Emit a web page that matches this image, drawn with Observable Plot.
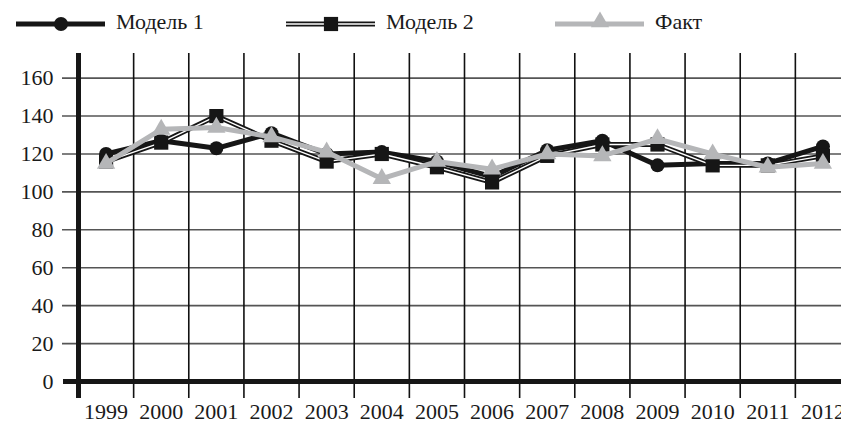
<!DOCTYPE html>
<html>
<head>
<meta charset="utf-8">
<script src="https://cdn.jsdelivr.net/npm/d3@7"></script>
<script src="https://cdn.jsdelivr.net/npm/@observablehq/plot@0.6"></script>
<style>
  html, body { margin: 0; padding: 0; background: #fff; overflow: hidden; width: 841px; height: 423px; }
  #legend { height: 40px; }
  #chart svg { display: block; max-width: none !important; }
</style>
</head>
<body>
<div id="legend"></div>
<div id="chart"></div>
<script>
const years = [1999, 2000, 2001, 2002, 2003, 2004, 2005, 2006, 2007, 2008, 2009, 2010, 2011, 2012];
const model1 = [120, 127, 123, 131, 120, 121, 116, 108, 122, 127, 114, 115, 115, 124];
const model2 = [116, 126, 140, 127, 116, 120, 113, 105, 119, 125, 125, 114, 114, 119];
const fact   = [115, 133, 134, 129, 121, 107, 116, 112, 120, 119, 128, 120, 113, 115];
const yTicks = [0, 20, 40, 60, 80, 100, 120, 140, 160];
const seriesNames = ["Модель 1", "Модель 2", "Факт"];

const FONT = "'Liberation Serif', 'Times New Roman', serif";
const BLACK = "#161616";
const GRAY = "#b5b6b8";

const rows = arr => years.map((year, i) => ({year, value: arr[i]}));
const d1 = rows(model1), d2 = rows(model2), d3r = rows(fact);
const boundaries = years.slice(1).map(y => y - 0.5);

const chart = Plot.plot({
  width: 850,
  height: 383,
  marginLeft: 78,
  marginRight: 0,
  marginTop: 13,
  marginBottom: 42,
  x: {type: "linear", domain: [years[0] - 0.5, years[years.length - 1] + 0.5], label: null},
  y: {domain: [0, 173], label: null},
  style: {fontFamily: FONT, fontSize: "22px", color: "#1a1a1a", background: "#fff"},
  marks: [
    Plot.ruleY(yTicks.slice(1), {stroke: "#555", strokeWidth: 1.6, insetLeft: -16}),
    Plot.ruleX(boundaries, {stroke: "#111", strokeWidth: 1.6, insetBottom: -17}),
    Plot.ruleX([years[0] - 0.5], {stroke: BLACK, strokeWidth: 5, insetBottom: -17}),
    Plot.ruleY([0], {stroke: BLACK, strokeWidth: 5, insetLeft: -15}),
    Plot.axisY({ticks: yTicks, tickSize: 0, tickPadding: 25, fontSize: 22, fontFamily: FONT}),
    Plot.axisX({ticks: years, tickSize: 0, tickPadding: 22, fontSize: 22, fontFamily: FONT, tickFormat: d => String(d)}),
    // Model 1
    Plot.line(d1, {x: "year", y: "value", stroke: BLACK, strokeWidth: 5, strokeLinejoin: "miter"}),
    Plot.dot(d1, {x: "year", y: "value", symbol: "circle", r: 7, fill: BLACK, stroke: "none"}),
    // Model 2 (double line)
    Plot.line(d2, {x: "year", y: "value", stroke: BLACK, strokeWidth: 5, strokeLinejoin: "miter"}),
    Plot.line(d2, {x: "year", y: "value", stroke: "#fff", strokeWidth: 1.4, strokeLinejoin: "miter"}),
    Plot.dot(d2, {x: "year", y: "value", symbol: "square", r: 8, fill: BLACK, stroke: "none"}),
    // Fact
    Plot.line(d3r, {x: "year", y: "value", stroke: GRAY, strokeWidth: 5, strokeLinejoin: "miter"}),
    Plot.dot(d3r, {x: "year", y: "value", symbol: "triangle", r: 6.8, fill: GRAY, stroke: "none"})
  ]
});
document.getElementById("chart").appendChild(chart);

// Legend
const starts = [16, 286, 555];
const lsvg = d3.select("#legend").append("svg").attr("width", 841).attr("height", 40);
const ly = 24;
seriesNames.forEach((name, i) => {
  const x0 = starts[i];
  const g = lsvg.append("g");
  const color = i === 2 ? GRAY : BLACK;
  g.append("line").attr("x1", x0).attr("x2", x0 + 89).attr("y1", ly).attr("y2", ly)
    .attr("stroke", color).attr("stroke-width", 5);
  if (i === 1) {
    g.append("line").attr("x1", x0).attr("x2", x0 + 89).attr("y1", ly).attr("y2", ly)
      .attr("stroke", "#fff").attr("stroke-width", 1.4);
  }
  const sym = [d3.symbolCircle, d3.symbolSquare, d3.symbolTriangle][i];
  const r = [7, 8, 6.8][i];
  g.append("path").attr("d", d3.symbol(sym, Math.PI * r * r)())
    .attr("transform", `translate(${x0 + 45},${i === 2 ? ly - 2 : ly})`)
    .attr("fill", color);
  g.append("text").attr("x", x0 + 100).attr("y", ly + 4.5)
    .attr("font-family", FONT).attr("font-size", 22).attr("fill", "#1a1a1a")
    .text(name);
});
</script>
</body>
</html>
